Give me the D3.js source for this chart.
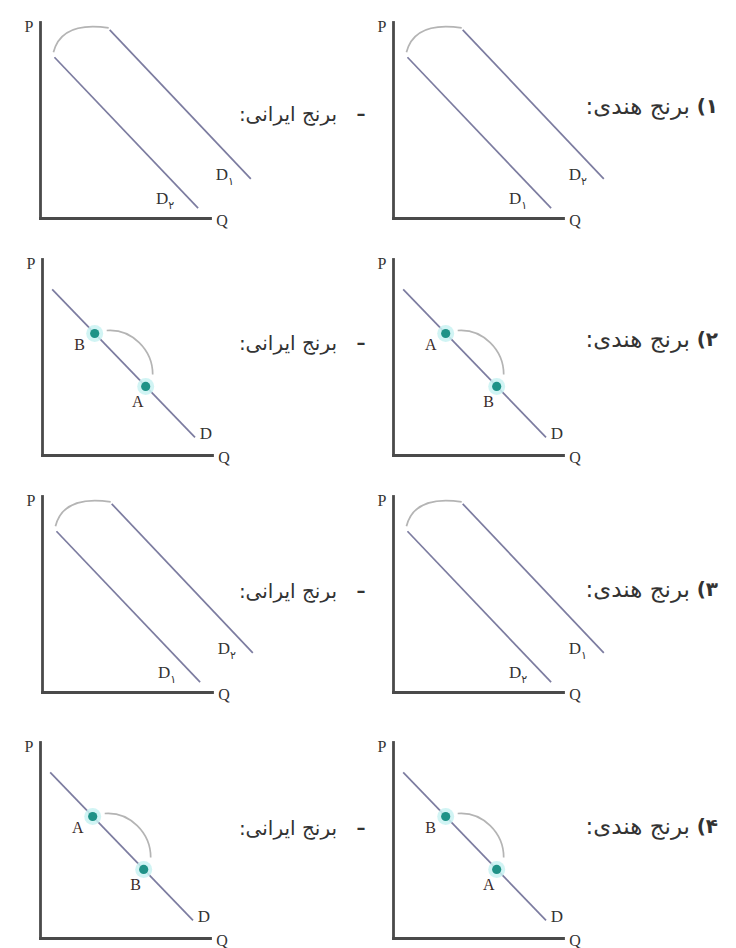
<!DOCTYPE html>
<html>
<head>
  <meta charset="UTF-8">
  <script src="https://d3js.org/d3.v7.min.js"></script>
  <style>
    body { margin: 0; background: #fff; }
  </style>
</head>
<body>
  <div id="chart"></div>
  <script>
    // data (Q and P in axis units, 0..10)

    const optionNums = ['۱', '۲', '۳', '۴'];
    const leftTitle = 'برنج ایرانی:';
    const rightTitle = 'برنج هندی:';

    // rows 1 and 3: the demand curve shifts
    const innerCurve = [[0.85, 8.2], [9.3, 0.5]];
    const outerCurve = [[4.1, 9.6], [12.4, 2.0]];
    // subscripts in order 1-left, 1-right, 3-left, 3-right
    const innerSubs = ['۲', '۱', '۱', '۲'];
    const outerSubs = ['۱', '۲', '۲', '۱'];

    // rows 2 and 4: movement along one curve
    const demandCurve = [[0.6, 8.45], [9.0, 0.9]];
    const upperPoint = [3.1, 6.2];
    const lowerPoint = [6.1, 3.5];
    // names in order 2-left, 2-right, 4-left, 4-right
    const upperNames = ['B', 'A', 'A', 'B'];
    const lowerNames = ['A', 'B', 'B', 'A'];

    // layout

    const W = 736, H = 948;
    const axisW = 170, axisH = 196;
    const rowBase = [218, 455, 692, 938];
    const leftX = [40, 42, 42, 40];
    const rightX = 393;
    const leftTextY = [114, 343, 591, 828];
    const rightTextY = [106, 339, 589, 826];

    const axisColor = '#4a4a4a';
    const curveColor = '#7c7ca0';
    const arcColor = '#b4b4b4';
    const textColor = '#333';
    const serif = '"Liberation Serif", "DejaVu Serif", serif';
    const sans = '"DejaVu Sans", sans-serif';

    const svg = d3.select('#chart')
      .append('svg')
        .attr('width', W)
        .attr('height', H)
        .style('background', '#fff');

    function frame(ox, oy) {
      const x = d3.scaleLinear().domain([0, 10]).range([ox, ox + axisW]);
      const y = d3.scaleLinear().domain([0, 10]).range([oy, oy - axisH]);
      const g = svg.append('g');

      g.append('g')
          .attr('transform', `translate(0,${oy})`)
          .call(d3.axisBottom(x).tickValues([]).tickSizeOuter(0));
      g.append('g')
          .attr('transform', `translate(${ox},0)`)
          .call(d3.axisLeft(y).tickValues([]).tickSizeOuter(0));
      g.selectAll('.domain')
          .attr('stroke', axisColor)
          .attr('stroke-width', 2.8)
          .attr('stroke-linecap', 'square');

      g.append('text')
          .attr('x', ox - 11).attr('y', y(10) + 10)
          .attr('text-anchor', 'middle')
          .attr('font-family', serif).attr('font-size', 16)
          .attr('fill', textColor)
          .text('P');
      g.append('text')
          .attr('x', x(10) + 12).attr('y', oy + 8)
          .attr('text-anchor', 'middle')
          .attr('font-family', serif).attr('font-size', 16)
          .attr('fill', textColor)
          .text('Q');

      return { g, x, y };
    }

    function dLabel(g, px, py, sub) {
      const t = g.append('text')
          .attr('x', px).attr('y', py)
          .attr('text-anchor', 'middle')
          .attr('font-family', serif).attr('font-size', 17)
          .attr('fill', textColor);
      t.append('tspan').text('D');
      if (sub) {
        t.append('tspan')
            .attr('dy', 5)
            .attr('font-family', sans)
            .attr('font-size', 11)
            .text(sub);
      }
    }

    const line = (x, y) => d3.line().x(d => x(d[0])).y(d => y(d[1]));

    function shiftPanel(ox, oy, innerSub, outerSub) {
      const { g, x, y } = frame(ox, oy);

      // arc from top of the inner curve to top of the outer curve
      const s = [x(innerCurve[0][0]) - 1, y(innerCurve[0][1]) - 5];
      const e = [x(outerCurve[0][0]) - 1, y(outerCurve[0][1]) - 2];
      const p = d3.path();
      p.moveTo(s[0], s[1]);
      p.quadraticCurveTo(s[0] + 8, e[1] - 7, e[0], e[1]);
      g.append('path')
          .attr('d', p.toString())
          .attr('fill', 'none')
          .attr('stroke', arcColor)
          .attr('stroke-width', 1.7);

      [innerCurve, outerCurve].forEach(c => {
        g.append('path')
            .attr('d', line(x, y)(c))
            .attr('fill', 'none')
            .attr('stroke', curveColor)
            .attr('stroke-width', 1.7);
      });

      const ie = innerCurve[1], oe = outerCurve[1];
      dLabel(g, x(ie[0]) - 33, y(ie[1]) - 4, innerSub);
      dLabel(g, x(oe[0]) - 26, y(oe[1]) + 1, outerSub);
    }

    function movePanel(ox, oy, upperName, lowerName) {
      const { g, x, y } = frame(ox, oy);

      g.append('path')
          .attr('d', line(x, y)(demandCurve))
          .attr('fill', 'none')
          .attr('stroke', curveColor)
          .attr('stroke-width', 1.7);

      const u = [x(upperPoint[0]), y(upperPoint[1])];
      const l = [x(lowerPoint[0]), y(lowerPoint[1])];

      // quarter arc from the upper point down to the lower one
      const s = [u[0] + 12, u[1] - 3];
      const e = [l[0] + 7, l[1] - 12];
      const p = d3.path();
      p.moveTo(s[0], s[1]);
      p.bezierCurveTo(s[0] + 0.55 * (e[0] - s[0]), s[1] - 2,
                      e[0], e[1] - 0.55 * (e[1] - s[1]),
                      e[0], e[1]);
      g.append('path')
          .attr('d', p.toString())
          .attr('fill', 'none')
          .attr('stroke', arcColor)
          .attr('stroke-width', 1.7);

      [u, l].forEach(pt => {
        g.append('circle')
            .attr('cx', pt[0]).attr('cy', pt[1]).attr('r', 8.5)
            .attr('fill', '#c9f2f2').attr('opacity', 0.85);
        g.append('circle')
            .attr('cx', pt[0]).attr('cy', pt[1]).attr('r', 4.6)
            .attr('fill', '#1f9287');
      });

      [[u, upperName, -15, 17], [l, lowerName, -8, 21]].forEach(([pt, name, dx, dy]) => {
        g.append('text')
            .attr('x', pt[0] + dx).attr('y', pt[1] + dy)
            .attr('text-anchor', 'middle')
            .attr('font-family', serif).attr('font-size', 16)
            .attr('fill', '#3a2b2b')
            .text(name);
      });

      const de = demandCurve[1];
      dLabel(g, x(de[0]) + 11, y(de[1]) + 2, '');
    }

    function rtlText(px, py, str, size, weight) {
      svg.append('text')
          .attr('x', px).attr('y', py)
          .attr('direction', 'rtl')
          .attr('text-anchor', 'start')
          .attr('font-family', sans).attr('font-size', size)
          .attr('font-weight', weight)
          .attr('fill', textColor)
          .text(str);
    }

    // draw the four options

    optionNums.forEach((num, i) => {
      const oy = rowBase[i];
      if (i % 2 === 0) {
        const k = i; // 0 -> row 1, 2 -> row 3
        shiftPanel(leftX[i], oy, innerSubs[k], outerSubs[k]);
        shiftPanel(rightX, oy, innerSubs[k + 1], outerSubs[k + 1]);
      } else {
        const k = i - 1;
        movePanel(leftX[i], oy, upperNames[k], lowerNames[k]);
        movePanel(rightX, oy, upperNames[k + 1], lowerNames[k + 1]);
      }

      rtlText(337, leftTextY[i] + 7, leftTitle, 20, 'normal');
      svg.append('text')
          .attr('x', 361).attr('y', leftTextY[i] + 6)
          .attr('text-anchor', 'middle')
          .attr('font-family', sans).attr('font-size', 18)
          .attr('font-weight', 'bold')
          .attr('fill', textColor)
          .text('–');
      rtlText(718, rightTextY[i] + 7, num + ')', 20, 'bold');
      rtlText(690, rightTextY[i] + 8, rightTitle, 23, 'normal');
    });
  </script>
</body>
</html>
